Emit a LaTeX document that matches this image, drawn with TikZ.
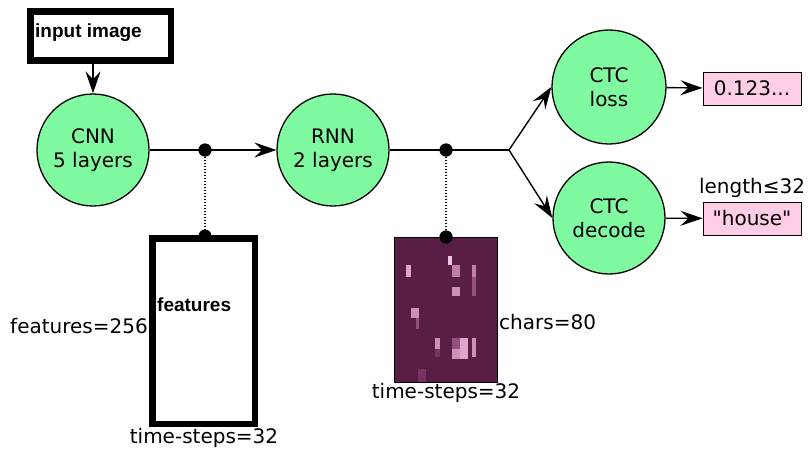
\documentclass[tikz,border=0pt]{standalone}
\usepackage{fontspec}
\setmainfont{DejaVu Sans}
\newfontfamily\qfont{DejaVu Sans}
\newfontfamily\arialfont{Liberation Sans}
\usetikzlibrary{arrows.meta}
\definecolor{nodegreen}{RGB}{128,250,160}
\definecolor{boxpink}{RGB}{255,205,230}
\definecolor{matbg}{RGB}{88,30,70}
\definecolor{pkA}{RGB}{225,165,205}
\definecolor{pkB}{RGB}{240,195,225}
\definecolor{pkC}{RGB}{195,125,170}
\definecolor{pkD}{RGB}{150,80,125}
\definecolor{pkE}{RGB}{120,50,95}
\definecolor{pkF}{RGB}{205,145,185}
\tikzset{
  lbl/.style={font=\fontsize{20}{24}\selectfont, inner sep=0pt},
  boldlbl/.style={font=\arialfont\bfseries\fontsize{19}{22}\selectfont, inner sep=0pt},
  circ/.style={circle, draw=black, line width=1.3pt, fill=nodegreen, inner sep=0pt,
    align=center, font=\fontsize{20}{24}\selectfont},
  pinkbox/.style={rectangle, draw=black, line width=1pt, fill=boxpink, inner sep=0pt,
    minimum width=98pt, minimum height=33pt, font=\fontsize{20}{24}\selectfont},
  thickbox/.style={rectangle, draw=black, line width=6.5pt, fill=white, inner sep=0pt},
  conn/.style={line width=1.4pt, -{Stealth[length=22pt,width=15pt,inset=8pt]}},
  plainline/.style={line width=1.4pt},
  dotline/.style={line width=1.4pt, dash pattern=on 1.5pt off 1.5pt},
  blackdot/.style={circle, fill=black, inner sep=0pt, minimum size=13pt},
}
\begin{document}
\begin{tikzpicture}[x=1pt,y=-1pt]
\useasboundingbox (0,0) rectangle (808,450);

% input box
\node[thickbox, minimum width=140.5pt, minimum height=49pt] (inbox) at (100.75,36) {};
\node[boldlbl, anchor=base west] (inlabel) at (35,37) {input image};

% circles
\node[circ, minimum size=112pt] (cnn) at (93,150) {CNN\\5 layers};
\node[circ, minimum size=112pt] (rnn) at (333,150) {RNN\\2 layers};
\node[circ, minimum size=114pt] (loss) at (609,87) {CTC\\loss};
\node[circ, minimum size=112pt] (dec) at (609,218) {CTC\\decode};

% output boxes
\node[pinkbox] (lossbox) at (752,88.5) {0.123...};
\node[pinkbox] (housebox) at (752,218.5) {\qfont"house"};
\node[lbl] (lenlbl) at (752,188) {length≤32};

% dots on main line
\node[blackdot] (dot1) at (205,150) {};
\node[blackdot] (dot2) at (446,150) {};
\coordinate (branch) at (509,150);

% dots on box tops (drawn first)
\node[blackdot] (fdot) at (205,236) {};
\node[blackdot] (mdot) at (446,237) {};

% features box
\node[thickbox, minimum width=102.5pt, minimum height=185.5pt] (fbox) at (203.5,331) {};
\node[boldlbl, anchor=base west] (flabel) at (157,311) {features};
\node[lbl, anchor=east] (f256) at (148,326) {features=256};
\node[lbl] (fts) at (204,438) {time-steps=32};

% matrix
\node[rectangle, draw=black, line width=0.8pt, fill=matbg, inner sep=0pt,
  minimum width=103pt, minimum height=145pt] (mat) at (445.5,309.5) {};
\begin{scope}
\fill[pkA] (406,265) rectangle (411,277);
\fill[pkB] (448,256) rectangle (452,265);
\fill[pkC] (452,265) rectangle (460,277);
\fill[pkC] (472,265) rectangle (476,277);
\fill[pkD] (472,277) rectangle (476,296);
\fill[pkF] (452,287) rectangle (460,296);
\fill[pkF] (411,308) rectangle (419,318);
\fill[pkD] (416,318) rectangle (419,329);
\fill[pkF] (435,338) rectangle (440,349);
\fill[pkE] (435,349) rectangle (440,357);
\fill[pkD] (452,338) rectangle (460,349);
\fill[pkF] (452,349) rectangle (460,359);
\fill[pkA] (460,338) rectangle (468,359);
\fill[pkF] (472,338) rectangle (476,357);
\fill[pkE] (418,369) rectangle (426,381.5);
\end{scope}
\node[blackdot] at (mdot) {};
\node[lbl, anchor=west] (chars) at (499,322) {chars=80};
\node[lbl] (mts) at (446,393) {time-steps=32};

% connectors
\draw[conn] (cnn.north |- inbox.south) -- (cnn.north);
\draw[conn] (cnn) -- (rnn);
\draw[plainline] (rnn.east) -- (branch);
\draw[conn] (branch) -- (loss.west);
\draw[conn] (branch) -- (dec.west);
\draw[conn] (loss) -- (lossbox);
\draw[conn] (dec) -- (housebox);
\draw[dotline] (dot1) -- (fdot);
\draw[dotline] (dot2) -- (mdot);
\node[blackdot] at (dot1) {};
\node[blackdot] at (dot2) {};
\end{tikzpicture}
\end{document}
